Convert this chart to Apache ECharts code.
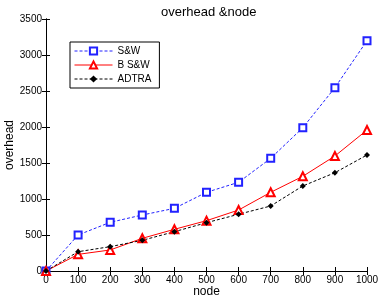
<!DOCTYPE html>
<html><head><meta charset="utf-8">
<script src="https://cdn.jsdelivr.net/npm/echarts@6/dist/echarts.min.js"></script>
<style>html,body{margin:0;padding:0;background:#fff}#c{width:379px;height:300px}</style>
</head><body><div id="c"></div>
<script>
const nodes = [0,100,200,300,400,500,600,700,800,900,1000];
const sw = [0,500,676,778,870,1093,1232,1565,1990,2546,3199];
const bsw = [0,231,292,454,579,699,847,1093,1315,1597,1958];
const adtra = [0,268,338,426,546,671,788,903,1181,1365,1611];
const seriesNames = ['S&W','B S&W','ADTRA'];
const F = 'Liberation Sans, Arial, sans-serif';
const pairs = a => nodes.map((n,i)=>[n,a[i]]);
const chart = echarts.init(document.getElementById('c'));
const axisCommon = {
  axisLine:{show:true,lineStyle:{color:'#000',width:1}},
  axisTick:{show:true,inside:true,length:4,lineStyle:{color:'#000'}},
  splitLine:{show:false}
};
const fmt = v => String(v);
chart.setOption({
  animation:false,
  title:{text:'overhead &node',left:156,top:1,textStyle:{fontFamily:F,fontSize:13,fontWeight:'normal',color:'#000'}},
  grid:{left:46,right:12,top:19,bottom:29,containLabel:false,outerBoundsMode:'none'},
  legend:{
    orient:'vertical',left:70,top:42,
    data:seriesNames,
    backgroundColor:'#fff',borderColor:'#000',borderWidth:1,
    padding:[4,8,4,4],itemGap:4,itemWidth:38,itemHeight:9,
    lineStyle:{width:1},itemStyle:{borderWidth:1},
    textStyle:{fontFamily:F,fontSize:10,color:'#000'}
  },
  xAxis:[
    Object.assign({type:'value',min:0,max:1000,interval:100,position:'bottom',
      name:'node',nameLocation:'middle',nameGap:15,nameMoveOverlap:false,nameTextStyle:{fontFamily:F,fontSize:12,color:'#000'},
      axisLabel:{fontFamily:F,fontSize:10,color:'#000',margin:4,formatter:fmt}},axisCommon),
    Object.assign({type:'value',min:0,max:1000,interval:100,position:'top',axisLabel:{show:false}},axisCommon)
  ],
  yAxis:[
    Object.assign({type:'value',min:0,max:3500,interval:500,position:'left',
      name:'overhead',nameLocation:'middle',nameGap:30,nameMoveOverlap:false,nameTextStyle:{fontFamily:F,fontSize:12,color:'#000'},
      axisLabel:{fontFamily:F,fontSize:10,color:'#000',margin:4,formatter:fmt}},axisCommon),
    Object.assign({type:'value',min:0,max:3500,interval:500,position:'right',axisLabel:{show:false}},axisCommon)
  ],
  series:[
    {name:seriesNames[0],type:'line',data:pairs(sw),symbol:'emptyRect',symbolSize:7,
      itemStyle:{color:'#2222ff',borderWidth:1},lineStyle:{color:'#2222ff',width:1,type:[3,2]},emphasis:{disabled:true}},
    {name:seriesNames[1],type:'line',data:pairs(bsw),symbol:'emptyTriangle',symbolSize:8,
      itemStyle:{color:'#ff0000',borderWidth:1},lineStyle:{color:'#ff0000',width:1,type:'solid'},emphasis:{disabled:true}},
    {name:seriesNames[2],type:'line',data:pairs(adtra),symbol:'diamond',symbolSize:6,
      itemStyle:{color:'#000'},lineStyle:{color:'#000',width:1,type:[3,2]},emphasis:{disabled:true}}
  ]
});
</script></body></html>
